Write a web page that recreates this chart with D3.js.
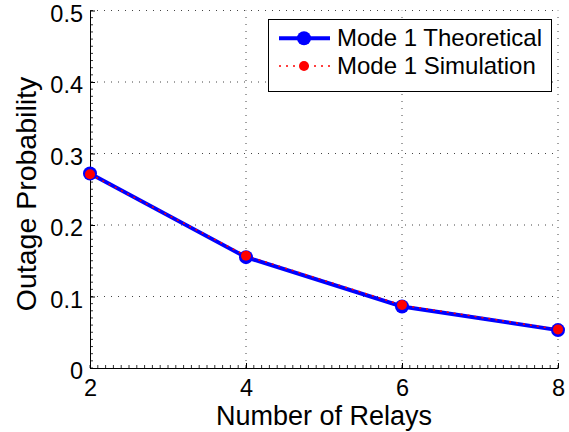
<!DOCTYPE html>
<html>
<head>
<meta charset="utf-8">
<script src="https://cdn.jsdelivr.net/npm/d3@7"></script>
<style>
    body { margin: 0; background: #fff; }
    text { font-family: "Liberation Sans", Arial, Helvetica, sans-serif; fill: #000; }
</style>
</head>
<body>
<svg id="chart" width="569" height="432"></svg>
<script>
// Values
var relays = [2, 4, 6, 8];
var theoretical = [0.272, 0.155, 0.086, 0.053];
var simulation = [0.271, 0.157, 0.088, 0.054];
var xTicks = [2, 4, 6, 8];
var yTicks = [0, 0.1, 0.2, 0.3, 0.4, 0.5];
var seriesNames = ['Mode 1 Theoretical', 'Mode 1 Simulation'];

var width = 569, height = 432;
var margin = {top: 10.5, right: 11, bottom: 64, left: 90};

var svg = d3.select('#chart');

var x = d3.scaleLinear().domain([2, 8]).range([margin.left, width - margin.right]);
var y = d3.scaleLinear().domain([0, 0.5]).range([height - margin.bottom, margin.top]);

// dotted grid
var grid = svg.append('g').attr('class', 'grid')
    .attr('stroke', '#444').attr('stroke-width', 1).attr('stroke-dasharray', '1,6');

grid.selectAll('.gx')
    .data(xTicks.slice(1))
    .enter().append('line')
    .attr('x1', function (d) { return x(d); })
    .attr('x2', function (d) { return x(d); })
    .attr('y1', y(0)).attr('y2', y(0.5));

grid.selectAll('.gy')
    .data(yTicks.slice(1))
    .enter().append('line')
    .attr('y1', function (d) { return y(d); })
    .attr('y2', function (d) { return y(d); })
    .attr('x1', x(2)).attr('x2', x(8));

// minor ticks (inward, MATLAB style)
var minor = svg.append('g').attr('stroke', '#333').attr('stroke-width', 1);

minor.selectAll('.mx')
    .data(d3.range(2, 8.001, 0.1))
    .enter().append('line')
    .attr('x1', function (d) { return x(d); })
    .attr('x2', function (d) { return x(d); })
    .attr('y1', y(0)).attr('y2', y(0) - 3);

minor.selectAll('.my')
    .data(d3.range(0, 0.5001, 0.01))
    .enter().append('line')
    .attr('y1', function (d) { return y(d); })
    .attr('y2', function (d) { return y(d); })
    .attr('x1', x(2)).attr('x2', x(2) + 3);

// axes
var xAxis = svg.append('g')
    .attr('transform', 'translate(0,' + y(0) + ')')
    .call(d3.axisBottom(x).tickValues(xTicks).tickFormat(d3.format('d'))
        .tickSizeInner(-5).tickSizeOuter(0).tickPadding(11));

var yAxis = svg.append('g')
    .attr('transform', 'translate(' + x(2) + ',0)')
    .call(d3.axisLeft(y).tickValues(yTicks).tickFormat(function (d) { return d === 0 ? '0' : d3.format('.1f')(d); })
        .tickSizeInner(-5).tickSizeOuter(0).tickPadding(7));

[xAxis, yAxis].forEach(function (a) {
    a.attr('font-size', null).attr('font-family', null);
    a.selectAll('.domain').attr('stroke', '#000').attr('stroke-width', 1);
    a.selectAll('.tick line').attr('stroke', '#000');
    a.selectAll('text').attr('fill', '#000')
        .style('font-size', '23.5px')
        .style('font-family', '"Liberation Sans", Arial, sans-serif');
});
yAxis.selectAll('text').attr('dy', '0.45em');

// axis labels
svg.append('text')
    .attr('x', (x(2) + x(8)) / 2)
    .attr('y', 425)
    .attr('text-anchor', 'middle')
    .style('font-size', '27px')
    .text('Number of Relays');

svg.append('text')
    .attr('transform', 'translate(36,' + 194 + ') rotate(-90)')
    .attr('text-anchor', 'middle')
    .style('font-size', '28.5px')
    .text('Outage Probability');

// series
var theoData = relays.map(function (d, i) { return [d, theoretical[i]]; });
var simData = relays.map(function (d, i) { return [d, simulation[i]]; });

var line = d3.line()
    .x(function (d) { return x(d[0]); })
    .y(function (d) { return y(d[1]); });

svg.append('path')
    .datum(theoData)
    .attr('d', line)
    .attr('fill', 'none')
    .attr('stroke', '#0000ff')
    .attr('stroke-width', 4);

svg.append('path')
    .datum(simData)
    .attr('d', line)
    .attr('fill', 'none')
    .attr('stroke', '#ff0000')
    .attr('stroke-width', 1.5)
    .attr('stroke-dasharray', '2,5');

svg.selectAll('.mt')
    .data(theoData)
    .enter().append('circle')
    .attr('cx', function (d) { return x(d[0]); })
    .attr('cy', function (d) { return y(d[1]); })
    .attr('r', 7)
    .attr('fill', '#0000ff');

svg.selectAll('.ms')
    .data(simData)
    .enter().append('circle')
    .attr('cx', function (d) { return x(d[0]); })
    .attr('cy', function (d) { return y(d[1]); })
    .attr('r', 5)
    .attr('fill', '#ff0000');

// legend
var legend = svg.append('g');

legend.append('rect')
    .attr('x', 268.5).attr('y', 19.5)
    .attr('width', 283).attr('height', 72)
    .attr('fill', '#fff')
    .attr('stroke', '#000')
    .attr('stroke-width', 1);

var rows = [38.3, 66];

legend.append('line')
    .attr('x1', 279).attr('x2', 330)
    .attr('y1', rows[0]).attr('y2', rows[0])
    .attr('stroke', '#0000ff').attr('stroke-width', 4);
legend.append('circle')
    .attr('cx', 304).attr('cy', rows[0]).attr('r', 7).attr('fill', '#0000ff');

legend.append('line')
    .attr('x1', 279).attr('x2', 330)
    .attr('y1', rows[1]).attr('y2', rows[1])
    .attr('stroke', '#ff0000').attr('stroke-width', 1.5)
    .attr('stroke-dasharray', '2,5');
legend.append('circle')
    .attr('cx', 304).attr('cy', rows[1]).attr('r', 5).attr('fill', '#ff0000');

legend.selectAll('.lt')
    .data(seriesNames)
    .enter().append('text')
    .attr('x', 337)
    .attr('y', function (d, i) { return rows[i] + 7.5; })
    .style('font-size', '24px')
    .text(function (d) { return d; });
</script>
</body>
</html>
